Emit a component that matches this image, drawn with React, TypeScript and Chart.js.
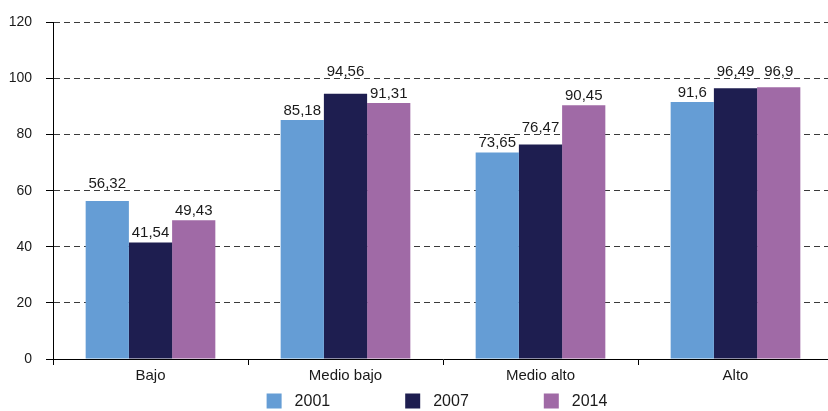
import React, { useEffect, useRef } from "react";
import { Chart, registerables } from "chart.js";

Chart.register(...registerables);

const categories = ["Bajo", "Medio bajo", "Medio alto", "Alto"];
const seriesNames = ["2001", "2007", "2014"];
const values2001 = [56.32, 85.18, 73.65, 91.6];
const values2007 = [41.54, 94.56, 76.47, 96.49];
const values2014 = [49.43, 91.31, 90.45, 96.9];
const yTicks = [0, 20, 40, 60, 80, 100, 120];
const seriesColors = ["#659dd5", "#1e1e50", "#a06aa6"];

const FONT = "'Liberation Sans', Arial, sans-serif";
const TEXT = "#1a1a1a";

const fmt = (v: number) => String(v).replace(".", ",");

const barLabelPlugin = {
  id: "barLabels",
  afterDatasetsDraw(chart: any) {
    const ctx = chart.ctx;
    const yScale = chart.scales.y;
    ctx.save();
    ctx.font = `15px ${FONT}`;
    ctx.fillStyle = TEXT;
    ctx.textAlign = "center";
    ctx.textBaseline = "alphabetic";
    chart.data.datasets.forEach((ds: any, di: number) => {
      const meta = chart.getDatasetMeta(di);
      meta.data.forEach((bar: any, i: number) => {
        const v = ds.data[i];
        let bottom = bar.y - 5;
        const top = bottom - 11;
        for (const t of yTicks) {
          if (t === 0) continue;
          const gy = yScale.getPixelForValue(t);
          if (gy > top && gy < bottom + 1) bottom = gy - 3;
        }
        ctx.fillText(fmt(v), bar.x, bottom);
      });
    });
    ctx.restore();
  },
};

const legendPlugin = {
  id: "customLegend",
  afterDraw(chart: any) {
    const ctx = chart.ctx;
    const box = 15;
    const boxGap = 13;
    const itemGap = 75;
    ctx.save();
    ctx.font = `16px ${FONT}`;
    const widths = seriesNames.map((n) => box + boxGap + ctx.measureText(n).width);
    const total = widths.reduce((a, b) => a + b, 0) + itemGap * (widths.length - 1);
    const area = chart.chartArea;
    let x = (area.left + area.right) / 2 - 6 - total / 2;
    const cy = 401;
    seriesNames.forEach((n, i) => {
      ctx.fillStyle = seriesColors[i];
      ctx.fillRect(x, cy - 7.5, box, box);
      ctx.fillStyle = TEXT;
      ctx.textAlign = "left";
      ctx.textBaseline = "middle";
      ctx.fillText(n, x + box + boxGap, cy + 1);
      x += widths[i] + itemGap;
    });
    ctx.restore();
  },
};

export default function App() {
  const ref = useRef<HTMLCanvasElement>(null);

  useEffect(() => {
    if (!ref.current) return;
    const seriesValues = [values2001, values2007, values2014];
    const chart = new Chart(ref.current, {
      type: "bar",
      data: {
        labels: categories,
        datasets: seriesNames.map((name, i) => ({
          label: name,
          data: seriesValues[i],
          backgroundColor: seriesColors[i],
          borderWidth: 0,
          categoryPercentage: 0.665,
          barPercentage: 1,
        })),
      },
      options: {
        responsive: false,
        animation: false,
        layout: { padding: { top: 19, left: 0, right: 0, bottom: 0 } },
        plugins: {
          legend: { display: false },
          tooltip: { enabled: false },
        },
        scales: {
          x: {
            afterFit: (s: any) => {
              s.height = 52;
            },
            grid: {
              display: true,
              drawOnChartArea: false,
              drawTicks: true,
              tickLength: 6,
              color: "#000",
              offset: true,
            },
            border: { display: true, color: "#000", width: 1 },
            ticks: {
              color: TEXT,
              font: { family: FONT, size: 15 },
              padding: 2,
            },
          },
          y: {
            min: 0,
            max: 120,
            afterFit: (s: any) => {
              s.width = 53;
            },
            afterBuildTicks: (s: any) => {
              s.ticks = yTicks.map((v) => ({ value: v }));
            },
            grid: {
              color: "#3a3a3a",
              lineWidth: 1,
              tickLength: 7,
              tickColor: "#000",
              tickBorderDash: [],
            } as any,
            border: { display: true, color: "#000", width: 1, dash: [6, 4] },
            ticks: {
              color: TEXT,
              font: { family: FONT, size: 14 },
              padding: 14,
            },
          },
        },
      },
      plugins: [barLabelPlugin, legendPlugin],
    });
    return () => chart.destroy();
  }, []);

  return (
    <div
      style={{
        position: "absolute",
        left: 0,
        top: 0,
        width: 828,
        height: 411,
        overflow: "hidden",
        background: "#fff",
      }}
    >
      <canvas ref={ref} width={833} height={411} style={{ display: "block" }} />
    </div>
  );
}
